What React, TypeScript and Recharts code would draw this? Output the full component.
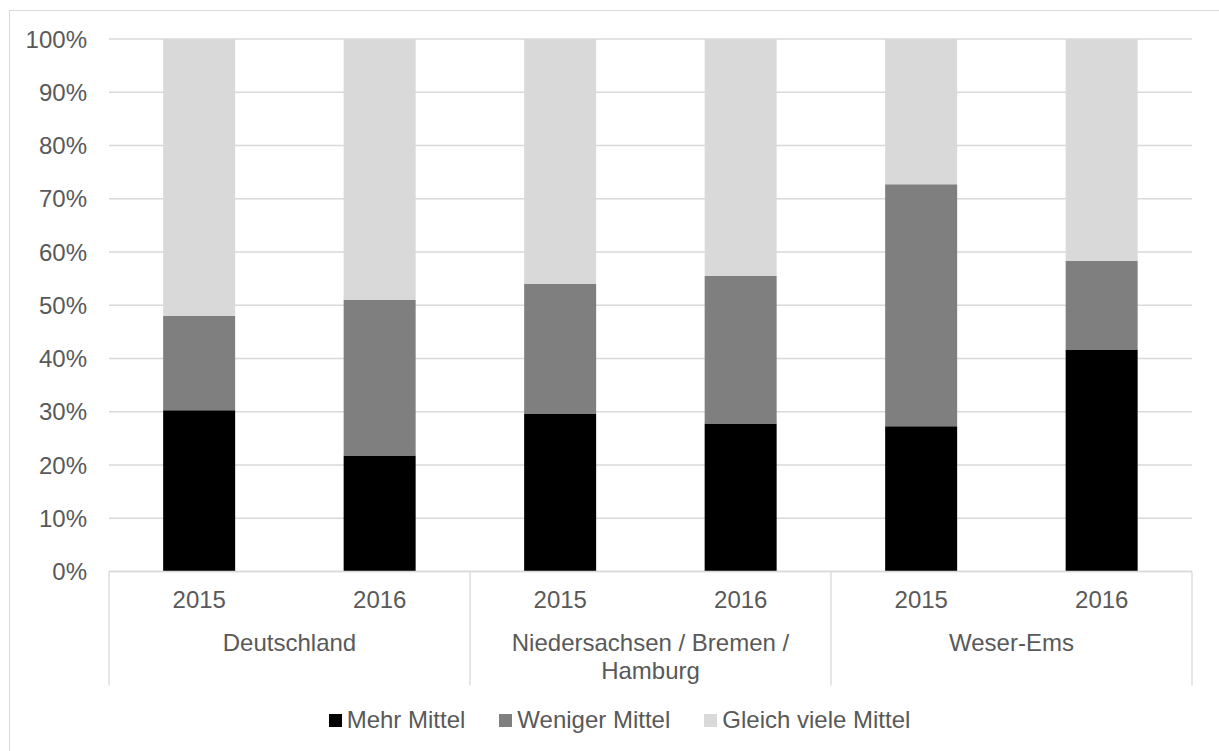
import React from "react";
import { BarChart, Bar, XAxis, YAxis, CartesianGrid, Legend } from "recharts";

const years = ["2015", "2016", "2015", "2016", "2015", "2016"];
const groups = ["Deutschland", "Niedersachsen / Bremen / Hamburg", "Weser-Ems"];
const mehrMittel = [30.3, 21.8, 29.6, 27.8, 27.3, 41.7];
const wenigerMittel = [17.7, 29.2, 24.4, 27.7, 45.4, 16.6];
const gleichVieleMittel = [52.0, 49.0, 46.0, 44.5, 27.3, 41.7];
const yTicks = [0, 10, 20, 30, 40, 50, 60, 70, 80, 90, 100];

const seriesNames = ["Mehr Mittel", "Weniger Mittel", "Gleich viele Mittel"];
const seriesColors = ["#000000", "#7f7f7f", "#d9d9d9"];

const data = years.map((y, i) => ({
  year: y,
  group: groups[Math.floor(i / 2)],
  mehr: mehrMittel[i],
  weniger: wenigerMittel[i],
  gleich: gleichVieleMittel[i],
}));

const W = 1219;
const H = 751;
const FONT = "'Liberation Sans', Arial, sans-serif";
const TEXT = "#595959";
const GRID = "#d9d9d9";
const LEFT = 109;
const RIGHT = 27;
const HALF_BAND = (W - LEFT - RIGHT) / years.length / 2;

let ctx: CanvasRenderingContext2D | null = null;
function measure(s: string): number {
  if (!ctx) {
    const c = document.createElement("canvas");
    ctx = c.getContext("2d");
  }
  if (!ctx) return s.length * 12;
  ctx.font = "24px 'Liberation Sans', Arial, sans-serif";
  return ctx.measureText(s).width;
}

function wrap(label: string, maxW: number): string[] {
  const words = label.split(" ");
  const out: string[] = [];
  let cur = "";
  for (const w of words) {
    const test = cur ? cur + " " + w : w;
    if (cur && measure(test) > maxW) {
      out.push(cur);
      cur = w;
    } else {
      cur = test;
    }
  }
  if (cur) out.push(cur);
  return out;
}

const GroupTick = (props: any) => {
  const { x, y, index } = props;
  const els: React.ReactNode[] = [];
  if (index % 2 === 0) {
    const cx = x + HALF_BAND;
    const left = x - HALF_BAND;
    els.push(
      <line key="l" x1={left} x2={left} y1={y - 40} y2={y + 74} stroke={GRID} strokeWidth={1.3} />
    );
    const lines = wrap(groups[index / 2], 330);
    els.push(
      <text key="t" x={cx} y={y + 39.5} textAnchor="middle" fontSize={24} fill={TEXT} fontFamily={FONT}>
        {lines.map((ln, k) => (
          <tspan key={k} x={cx} dy={k === 0 ? 0 : 27.5}>
            {ln}
          </tspan>
        ))}
      </text>
    );
  }
  if (index === years.length - 1) {
    const right = x + HALF_BAND;
    els.push(
      <line key="r" x1={right} x2={right} y1={y - 40} y2={y + 74} stroke={GRID} strokeWidth={1.3} />
    );
  }
  return <g>{els}</g>;
};

const LegendContent = () => (
  <div
    style={{
      display: "flex",
      justifyContent: "center",
      alignItems: "center",
      height: 30,
      paddingLeft: 20,
      fontSize: 24,
      color: TEXT,
      fontFamily: FONT,
      boxSizing: "border-box",
      width: W,
    }}
  >
    {seriesNames.map((n, i) => (
      <div key={n} style={{ display: "flex", alignItems: "center", marginLeft: i === 0 ? 0 : 34 }}>
        <div style={{ width: 13, height: 13, background: seriesColors[i], marginRight: 5 }} />
        <span>{n}</span>
      </div>
    ))}
  </div>
);

export default function App() {
  return (
    <div
      style={{
        position: "absolute",
        left: 0,
        top: 0,
        width: W,
        height: H,
        overflow: "hidden",
        background: "#ffffff",
        fontFamily: FONT,
      }}
    >
      <div
        style={{
          position: "absolute",
          left: 9,
          top: 10,
          width: W - 9,
          height: H - 10,
          borderLeft: `1px solid ${GRID}`,
          borderTop: `1px solid ${GRID}`,
          boxSizing: "border-box",
        }}
      />
      <div style={{ position: "absolute", left: 0, top: 0 }}>
        <BarChart
          width={W}
          height={H}
          data={data}
          margin={{ top: 39, right: RIGHT, left: 0, bottom: 35.5 }}
          barCategoryGap="30%"
        >
          <CartesianGrid xAxisId="a" vertical={false} stroke={GRID} strokeWidth={1.3} />
          <XAxis
            xAxisId="b"
            dataKey="year"
            height={74}
            interval={0}
            tickLine={false}
            tickSize={0}
            tickMargin={0}
            axisLine={false}
            tick={<GroupTick />}
          />
          <XAxis
            xAxisId="a"
            dataKey="year"
            height={40}
            interval={0}
            tickLine={false}
            tickSize={0}
            tickMargin={19}
            axisLine={{ stroke: GRID, strokeWidth: 1.3 }}
            tick={{ fontSize: 24, fill: TEXT, fontFamily: FONT }}
          />
          <YAxis
            width={109}
            domain={[0, 100]}
            ticks={yTicks}
            interval={0}
            axisLine={false}
            tickLine={false}
            tickSize={0}
            tickMargin={22}
            tickFormatter={(v: number) => `${v}%`}
            tick={{ fontSize: 24, fill: TEXT, fontFamily: FONT }}
          />
          <Legend
            verticalAlign="bottom"
            content={<LegendContent />}
            wrapperStyle={{ left: 0, top: 705, width: W, height: 30 }}
          />
          <Bar xAxisId="a" dataKey="mehr" name={seriesNames[0]} stackId="s" fill={seriesColors[0]} isAnimationActive={false} />
          <Bar xAxisId="a" dataKey="weniger" name={seriesNames[1]} stackId="s" fill={seriesColors[1]} isAnimationActive={false} />
          <Bar xAxisId="a" dataKey="gleich" name={seriesNames[2]} stackId="s" fill={seriesColors[2]} isAnimationActive={false} />
        </BarChart>
      </div>
    </div>
  );
}
